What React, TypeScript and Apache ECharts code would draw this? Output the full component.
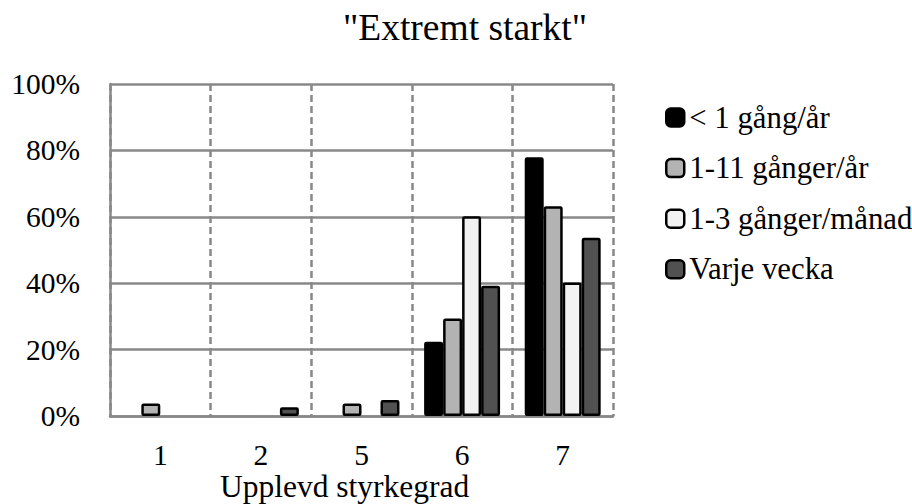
import React, { useEffect, useRef } from "react";
import * as echarts from "echarts";

const categories = ["1", "2", "5", "6", "7"];
const seriesNames = ["< 1 gång/år", "1-11 gånger/år", "1-3 gånger/månad", "Varje vecka"];
const lessThanOnePerYear = [0, 0, 0, 22.4, 77.9];
const oneToElevenPerYear = [3.8, 0, 3.8, 29.4, 63.2];
const oneToThreePerMonth = [0, 0, 0, 60.2, 40.2];
const everyWeek = [0, 2.6, 4.8, 39.2, 53.7];
const seriesColors = ["#000000", "#b3b3b3", "#f2f2f2", "#515151"];
const yTicks = [0, 20, 40, 60, 80, 100];
const titleText = '"Extremt starkt"';
const xAxisTitle = "Upplevd styrkegrad";

const FONT = "Liberation Serif";

export default function App() {
  const ref = useRef<HTMLDivElement>(null);
  useEffect(() => {
    if (!ref.current) return;
    const chart = echarts.init(ref.current, undefined, { renderer: "svg" });
    const allValues = [lessThanOnePerYear, oneToElevenPerYear, oneToThreePerMonth, everyWeek];
    const series = allValues.map((vals, i) => ({
      name: seriesNames[i],
      type: "bar",
      data: vals.map((v) => (v === 0 ? "-" : v)),
      barGap: "0%",
      barCategoryGap: "24.5%",
      itemStyle: {
        color: seriesColors[i],
        borderColor: "#000000",
        borderWidth: 2.5,
        borderRadius: 1,
      },
    }));
    chart.setOption({
      animation: false,
      backgroundColor: "#ffffff",
      textStyle: { fontFamily: FONT },
      title: {
        text: titleText,
        left: 460,
        textAlign: "center",
        top: 3,
        textStyle: { fontFamily: FONT, fontSize: 37.5, fontWeight: "normal", color: "#000" },
      },
      legend: {
        orient: "vertical",
        left: 660,
        top: 97,
        itemWidth: 18,
        itemHeight: 18,
        itemGap: 19.6,
        data: seriesNames,
        textStyle: { fontFamily: FONT, fontSize: 30.8, color: "#000", lineHeight: 31 },
        itemStyle: { borderColor: "#000", borderWidth: 2.5 },
      },
      grid: { left: 110, right: 299, top: 84, bottom: 88, containLabel: false },
      xAxis: {
        type: "category",
        data: categories,
        axisLine: { show: true, lineStyle: { color: "#888888", width: 2.5 } },
        axisTick: { show: false },
        axisLabel: { fontFamily: FONT, fontSize: 29.5, lineHeight: 24, color: "#000", margin: 27 },
        splitLine: {
          show: true,
          interval: 0,
          lineStyle: { color: "#888888", width: 2.5, type: [7, 4] },
        },
      },
      yAxis: {
        type: "value",
        min: yTicks[0],
        max: yTicks[yTicks.length - 1],
        interval: 20,
        axisLine: { show: true, lineStyle: { color: "#888888", width: 2.5 } },
        axisTick: { show: false },
        axisLabel: {
          fontFamily: FONT,
          fontSize: 29.5,
          color: "#000",
          margin: 30,
          formatter: "{value}%",
        },
        splitLine: { show: true, lineStyle: { color: "#888888", width: 2.5, type: "solid" } },
      },
      graphic: [
        {
          type: "text",
          left: 220,
          top: 470,
          style: {
            text: xAxisTitle,
            fontFamily: FONT,
            fontSize: 31.5,
            lineHeight: 27,
            fill: "#000",
          },
        },
      ],
      series,
    });
    return () => chart.dispose();
  }, []);
  return <div ref={ref} style={{ width: 912, height: 504, position: "absolute", left: 0, top: 0 }} />;
}
